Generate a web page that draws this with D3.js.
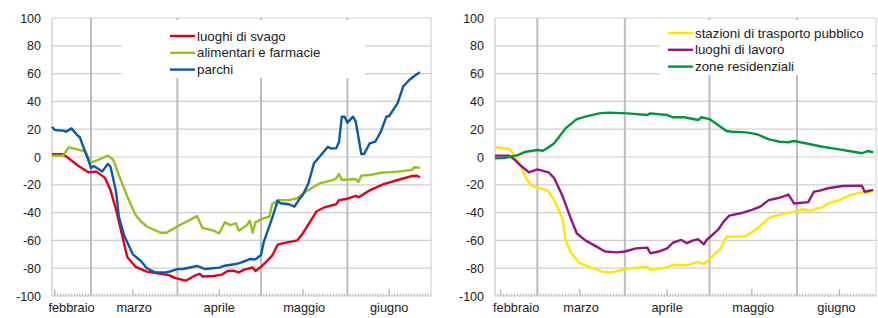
<!DOCTYPE html>
<html>
<head>
<meta charset="utf-8">
<script src="https://cdn.jsdelivr.net/npm/d3@7"></script>
<style>
  body { margin: 0; background: #fff; }
  text { font-family: "Liberation Sans", Arial, sans-serif; }
</style>
</head>
<body>
<div id="chart"></div>
<script>
// values are [days after 15 Feb 2020, index value]
var svago = [[1,2],[5,2],[7,-1],[10,-5.8],[14,-11],[17,-10.5],[20,-15],[22,-24],[24,-38],[26,-55],[28,-72],[31,-79],[35,-82.5],[40,-84],[43,-85],[45,-87],[49,-89],[52,-85.6],[54,-84],[55,-86],[59,-85.6],[62,-84.6],[64,-82],[66,-81.8],[68,-83],[70,-81],[73,-79.4],[74,-82],[76,-79],[78,-75],[80,-71],[82,-63],[85,-61.6],[89,-60],[91,-55],[96,-39],[99,-36],[103,-34],[104,-31],[107,-30],[110,-28],[111,-29],[115,-24],[120,-19.5],[126,-16],[130,-13.7],[132,-13.5],[133,-14.6]];
var alimentari = [[1,1],[5,1],[7,7],[11,5],[13,3.8],[15,-4],[18,-1.7],[21,1],[23,-2],[25,-13],[28,-28.5],[31,-41.7],[33,-46.5],[35,-50],[40,-54.5],[42,-54.5],[46,-50],[48,-47.7],[50,-45.8],[53,-42.5],[55,-51],[59,-53],[61,-55],[63,-47],[65,-49],[67,-47.7],[68,-53],[71,-49],[72,-45.8],[73,-54.5],[74,-47],[77,-44],[79,-43],[80,-34],[82,-31],[86,-31],[89,-29.7],[92,-25],[97,-19],[102,-16.5],[103,-15.3],[104,-12.2],[105,-16.5],[110,-15.8],[111,-18],[112,-13.4],[115,-13],[119,-11.3],[125,-10.5],[130,-9.4],[131,-7.4],[133,-7.7]];
var parchi = [[1,21.8],[2,19.4],[5,19],[6,18.2],[8,20.6],[10,15.8],[11,14.2],[12,8.6],[14,-2],[15,-8],[16,-6.5],[19,-10.5],[21,-5],[22,-7],[24,-25],[25,-43],[27,-57],[30,-70],[33,-75],[35,-80],[38,-83],[42,-83],[44,-82],[46,-80.6],[48,-80.6],[53,-78.4],[56,-80.6],[61,-79.6],[63,-78.2],[67,-77],[69,-75.8],[72,-73.4],[74,-73.6],[76,-70.5],[77,-61],[80,-44],[82,-31.4],[83,-33.3],[86,-34],[88,-35.7],[90,-29.7],[91,-27.3],[93,-19],[95,-4.5],[97,0.2],[100,7.4],[101,6.2],[103,6.2],[104,11],[105,29],[106,29],[107,24.7],[109,29],[110,25.4],[112,2.2],[113,2.2],[115,9.8],[117,11],[119,18.2],[121,29],[122,29.5],[125,38.6],[127,50.6],[129,55],[131,58.3],[133,61]];

var trasporto = [[0,7],[5,5.8],[6,3.5],[9,-5.8],[11,-15.3],[13,-20.9],[15,-21.8],[18,-23.7],[19,-25],[21,-31],[24,-45],[25,-60],[27,-69],[30,-76.5],[34,-79.4],[38,-82.5],[41,-83],[46,-80.8],[51,-79.4],[54,-79],[55,-81.3],[61,-79.4],[63,-77.7],[66,-77.7],[68,-78],[72,-75.5],[74,-77],[75,-75.3],[80,-65.7],[82,-57.3],[87,-57.3],[89,-56.8],[93,-51.3],[97,-44],[100,-42],[103,-40.5],[106,-39.3],[109,-37.6],[112,-38.8],[114,-37],[116,-36.2],[118,-33.3],[122,-31],[126,-27.3],[130,-25.4],[132,-26],[134,-24.2]];
var lavoro = [[0,1],[5,1],[7,-2],[9,-6],[12,-11],[15,-8.9],[19,-11],[21,-15.3],[24,-28.5],[27,-45],[29,-55],[32,-60],[36,-64.5],[39,-68],[43,-68.6],[46,-68],[50,-65.7],[54,-65.2],[55,-69.3],[58,-68],[61,-65.7],[63,-61.7],[66,-59.7],[68,-62],[70,-60.2],[72,-59.2],[74,-62.8],[75,-59.7],[79,-52.5],[81,-46.5],[83,-42.2],[87,-40.5],[91,-38],[94,-35.7],[97,-31],[100,-29.7],[102,-28.5],[104,-27],[106,-33.5],[111,-32.5],[113,-25],[115,-24.2],[118,-22.5],[123,-20.9],[130,-20.6],[131,-25],[134,-23.7]];
var residenziali = [[0,-1],[4,-0.5],[8,1.4],[11,3.8],[15,5],[17,4.5],[19,7],[21,9.9],[25,20.6],[29,27.3],[32,29],[37,31.4],[40,31.9],[47,31.4],[54,30.2],[55,31.4],[61,30.2],[63,28.6],[67,28.6],[72,26.6],[73,28.6],[76,27.3],[79,23],[82,18.7],[84,18.2],[89,17.7],[93,16.3],[97,12.7],[101,11],[104,10.6],[106,11.5],[110,9.9],[116,7.4],[122,5.5],[127,3.8],[130,2.7],[132,4.3],[134,3.4]];

var monthNames = ["febbraio", "marzo", "aprile", "maggio", "giugno"];
var yTicks = [-100, -80, -60, -40, -20, 0, 20, 40, 60, 80, 100];
var majorTickDays = [2, 30, 61, 91, 122];

var base = new Date(2020, 1, 15);
function day(n) { return d3.timeDay.offset(base, n); }

var svg = d3.select("#chart").append("svg")
  .attr("width", 878)
  .attr("height", 318);

function drawPanel(p) {
  var g = svg.append("g");
  var x = d3.scaleTime().domain([day(p.start), day(p.end)]).range([p.left, p.right]);
  var y = d3.scaleLinear().domain([-100, 100]).range([296, 18]);

  // horizontal grid
  g.selectAll(".hgrid").data(yTicks.filter(function(d) { return d > -100; }))
    .enter().append("line")
    .attr("x1", p.left).attr("x2", p.right)
    .attr("y1", function(d) { return y(d); }).attr("y2", function(d) { return y(d); })
    .attr("stroke", "#cfcfcf").attr("stroke-width", 1.2);

  // month separators
  var months = d3.timeMonth.range(day(p.start), day(p.end));
  g.selectAll(".vgrid").data(months)
    .enter().append("line")
    .attr("x1", function(d) { return x(d); }).attr("x2", function(d) { return x(d); })
    .attr("y1", y(100)).attr("y2", y(-100))
    .attr("stroke", "#bdbdbd").attr("stroke-width", 2);

  // frame
  g.append("line").attr("x1", p.left).attr("x2", p.left).attr("y1", y(100)).attr("y2", y(-100))
    .attr("stroke", "#c8c8c8").attr("stroke-width", 1.2);
  g.append("line").attr("x1", p.right).attr("x2", p.right).attr("y1", y(100)).attr("y2", y(-100))
    .attr("stroke", "#d6d6d6").attr("stroke-width", 1.2);
  g.append("line").attr("x1", p.left).attr("x2", p.right).attr("y1", y(-100)).attr("y2", y(-100))
    .attr("stroke", "#c8c8c8").attr("stroke-width", 1.2);

  // daily ticks
  var days = d3.timeDay.range(day(p.start + 1), day(p.end));
  g.selectAll(".mtick").data(days)
    .enter().append("line")
    .attr("x1", function(d) { return x(d); }).attr("x2", function(d) { return x(d); })
    .attr("y1", y(-100)).attr("y2", y(-100) - 2.5)
    .attr("stroke", "#b8b8b8").attr("stroke-width", 1);
  g.selectAll(".btick").data(majorTickDays)
    .enter().append("line")
    .attr("x1", function(d) { return x(day(d)); }).attr("x2", function(d) { return x(day(d)); })
    .attr("y1", y(-100)).attr("y2", y(-100) - 7)
    .attr("stroke", "#b8b8b8").attr("stroke-width", 1.4);

  // y labels
  g.selectAll(".ylab").data(yTicks)
    .enter().append("text")
    .attr("x", p.left - 11).attr("y", function(d) { return y(d) + 4.5; })
    .attr("text-anchor", "end")
    .attr("font-size", 12.5)
    .attr("fill", "#222")
    .text(function(d) { return d; });

  // month labels centred in the visible part of each month
  var edges = [day(p.start)].concat(months, [day(p.end)]);
  g.selectAll(".xlab").data(monthNames)
    .enter().append("text")
    .attr("x", function(d, i) { return (x(edges[i]) + x(edges[i + 1])) / 2; })
    .attr("y", 312)
    .attr("text-anchor", "middle")
    .attr("font-size", 12.8)
    .attr("fill", "#222")
    .text(function(d) { return d; });

  // legend box hides the grid behind it
  g.append("rect")
    .attr("x", p.legend.x).attr("y", 20)
    .attr("width", p.legend.w).attr("height", p.legend.h)
    .attr("fill", "#fff");

  var line = d3.line()
    .x(function(d) { return x(day(d[0])); })
    .y(function(d) { return y(d[1]); });

  p.series.forEach(function(s, i) {
    g.append("path")
      .datum(s.values)
      .attr("d", line)
      .attr("fill", "none")
      .attr("stroke", s.color)
      .attr("stroke-width", 2.4)
      .attr("stroke-linejoin", "round");

    var ly = p.legend.top + i * 16.8;
    g.append("line")
      .attr("x1", p.legend.lx).attr("x2", p.legend.lx + 25)
      .attr("y1", ly).attr("y2", ly)
      .attr("stroke", s.color).attr("stroke-width", 2.4);
    g.append("text")
      .attr("x", p.legend.lx + 27).attr("y", ly + 4.6)
      .attr("font-size", 13.3)
      .attr("fill", "#222")
      .text(s.name);
  });
}

drawPanel({
  left: 52, right: 431, start: 1, end: 137,
  legend: { x: 122, w: 243, h: 58, lx: 170, top: 36 },
  series: [
    { name: "luoghi di svago", color: "#e3001b", values: svago },
    { name: "alimentari e farmacie", color: "#95c11f", values: alimentari },
    { name: "parchi", color: "#0a5aa5", values: parchi }
  ]
});

drawPanel({
  left: 495, right: 876, start: 0, end: 135,
  legend: { x: 660, w: 212, h: 55, lx: 668, top: 33 },
  series: [
    { name: "stazioni di trasporto pubblico", color: "#ffe500", values: trasporto },
    { name: "luoghi di lavoro", color: "#94177f", values: lavoro },
    { name: "zone residenziali", color: "#00943e", values: residenziali }
  ]
});
</script>
</body>
</html>
